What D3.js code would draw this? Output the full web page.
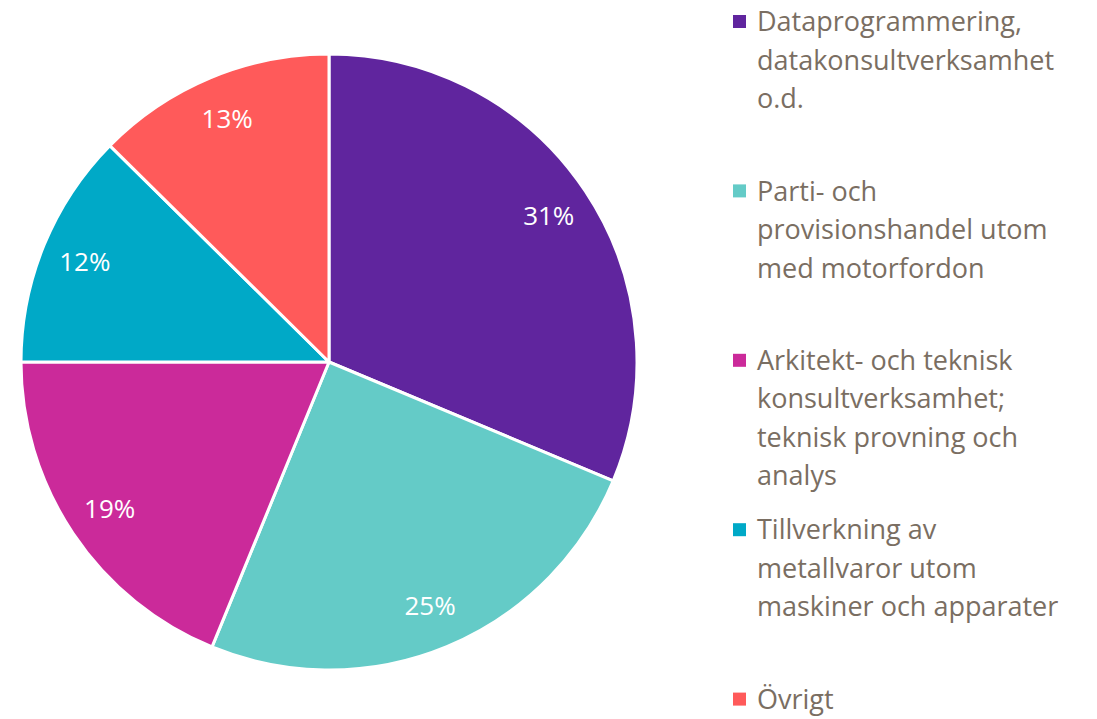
<!DOCTYPE html>
<html>
<head>
<meta charset="utf-8">
<script src="https://cdn.jsdelivr.net/npm/d3@7"></script>
<style>
  body { margin: 0; background: #fff; }
  svg { display: block; font-family: 'Open Sans', sans-serif; }
</style>
</head>
<body>
<svg class="chart"></svg>
<script>
const [width, height] = [1097, 719]

// Data (shares in percent).
const categories = [
	['Dataprogrammering,', 'datakonsultverksamhet', 'o.d.'],
	['Parti- och', 'provisionshandel utom', 'med motorfordon'],
	['Arkitekt- och teknisk', 'konsultverksamhet;', 'teknisk provning och', 'analys'],
	['Tillverkning av', 'metallvaror utom', 'maskiner och apparater'],
	['Övrigt'],
]
const values = [31.3, 24.9, 18.8, 12.4, 12.6]
const labels = ['31%', '25%', '19%', '12%', '13%']
const colors = ['#60259e', '#64cbc7', '#cb2a9a', '#00a9c7', '#ff5a5a']

const svg = d3.select('svg.chart')
	.attr('width', width)
	.attr('height', height)

const [cx, cy, r] = [329, 362, 308]

const pie = d3.pie().sort(null).value(d => d)
const arcs = pie(values)
const arc = d3.arc().innerRadius(0).outerRadius(r)
const labelArc = d3.arc().innerRadius(264).outerRadius(264)

const g = svg.append('g')
	.attr('transform', `translate(${cx},${cy})`)

g.selectAll('path')
		.data(arcs)
	.enter().append('path')
		.attr('d', arc)
		.attr('fill', (d, i) => colors[i])
		.attr('stroke', '#fff')
		.attr('stroke-width', 3)
		.attr('stroke-linejoin', 'round')

g.selectAll('text')
		.data(arcs)
	.enter().append('text')
		.attr('transform', d => `translate(${labelArc.centroid(d)})`)
		.attr('text-anchor', 'middle')
		.attr('dy', '0.36em')
		.attr('fill', '#fff')
		.attr('font-size', 26)
		.text((d, i) => labels[i])

// Legend
const legend = svg.append('g')
	.attr('transform', 'translate(733,0)')

const item = legend.selectAll('g')
		.data(categories)
	.enter().append('g')
		.attr('transform', (d, i) => `translate(0,${22 + i * 169.4})`)

item.append('rect')
	.attr('x', 0)
	.attr('y', -7)
	.attr('width', 13)
	.attr('height', 13)
	.attr('fill', (d, i) => colors[i])

item.append('text')
	.attr('fill', '#7a6e62')
	.attr('font-size', 27)
	.selectAll('tspan')
		.data(d => d)
	.enter().append('tspan')
		.attr('x', 24)
		.attr('y', (d, i) => i * 38.5)
		.attr('dy', '0.34em')
		.text(d => d)
</script>
</body>
</html>
